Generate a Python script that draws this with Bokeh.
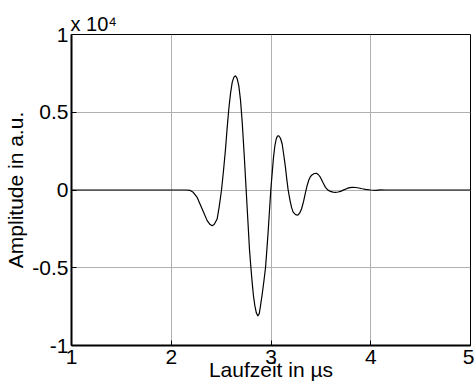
from bokeh.plotting import figure
from bokeh.models import Range1d, FixedTicker, CustomJSTickFormatter, Title
from bokeh.embed import file_html
from bokeh.resources import INLINE

# Laufzeit in microseconds
t_us = [1.00, 2.00, 2.15, 2.19, 2.22, 2.26, 2.31, 2.36, 2.39, 2.41, 2.43, 2.46, 2.48,
        2.504, 2.524, 2.544, 2.56, 2.577, 2.594, 2.611, 2.628, 2.644, 2.66, 2.677,
        2.694, 2.711, 2.731, 2.751, 2.768, 2.784, 2.798, 2.811, 2.825, 2.838, 2.853,
        2.868, 2.882, 2.895, 2.912, 2.928, 2.945, 2.958, 2.972, 2.985, 2.998, 3.012,
        3.025, 3.038, 3.052, 3.065, 3.078, 3.095, 3.112, 3.128, 3.145, 3.158, 3.172,
        3.19, 3.206, 3.222, 3.239, 3.254, 3.269, 3.288, 3.306, 3.326, 3.346, 3.362,
        3.379, 3.396, 3.413, 3.435, 3.456, 3.476, 3.496, 3.521, 3.546, 3.571, 3.596,
        3.622, 3.647, 3.672, 3.697, 3.73, 3.764, 3.79, 3.814, 3.85, 3.88, 3.915,
        3.947, 4.00, 4.05, 4.10, 4.15, 5.00]
# Amplitude in a.u.
amplitude = [0, 0, 0, -30, -150, -480, -1220, -1970, -2220, -2300, -2220, -1870, -1100,
             0, 1250, 2640, 3950, 5210, 6200, 6920, 7260, 7350, 7180, 6710,
             5800, 4400, 2300, 0, -1950, -3800, -4950, -5940, -6850, -7440, -7900,
             -8100, -7950, -7440, -6690, -5900, -5000, -3900, -2620, -1300, 0, 1100,
             2100, 2800, 3280, 3470, 3490, 3330, 2960, 2250, 1450, 700, 0,
             -650, -1120, -1420, -1540, -1600, -1610, -1480, -1220, -750, -150, 280,
             640, 870, 980, 1060, 1070, 980, 810, 480, 170, -10, -90,
             -140, -150, -130, -90, 10, 100, 150, 170, 160, 130, 80,
             40, 0, -20, 10, 0, 0]

x_ticks = [1, 2, 3, 4, 5]
y_ticks = [-10000, -5000, 0, 5000, 10000]
x_label = "Laufzeit in µs"
y_label = "Amplitude in a.u."
scale_text = "x 10\u2074"

FONT = "Liberation Sans"

p = figure(width=474, height=387, output_backend="svg", toolbar_location=None,
           x_range=Range1d(1, 5), y_range=Range1d(-10000, 10000),
           min_border_left=71, min_border_right=4, min_border_top=34, min_border_bottom=42,
           background_fill_color="white", border_fill_color="white")

p.outline_line_color = "black"
p.outline_line_width = 1

p.line(t_us, amplitude, line_color="black", line_width=1.2)

p.xaxis.ticker = FixedTicker(ticks=x_ticks)
p.yaxis.ticker = FixedTicker(ticks=y_ticks)
p.yaxis.formatter = CustomJSTickFormatter(code="return String(tick/1e4);")
for ax in (p.xaxis[0], p.yaxis[0]):
    ax.major_tick_in = 5
    ax.major_tick_out = 0
    ax.minor_tick_line_color = None
    ax.axis_line_color = "black"
    ax.axis_line_width = 2
    ax.major_tick_line_color = "black"
    ax.major_label_text_font = FONT
    ax.major_label_text_font_size = "21px"
    ax.major_label_text_color = "black"
    ax.axis_label_text_font = FONT
    ax.axis_label_text_font_size = "21px"
    ax.axis_label_text_font_style = "normal"
    ax.axis_label_text_color = "black"
p.xaxis.major_label_standoff = 4
p.yaxis.major_label_standoff = 3
p.xaxis.axis_label = x_label
p.yaxis.axis_label = y_label
p.xaxis.axis_label_standoff = -9
p.yaxis.axis_label_standoff = 2

p.xgrid.ticker = FixedTicker(ticks=x_ticks)
p.ygrid.ticker = FixedTicker(ticks=y_ticks)
p.grid.grid_line_color = "#b0b0b0"
p.grid.grid_line_width = 1

p.add_layout(Title(text=scale_text, align="left", offset=-1, standoff=0,
                   text_font=FONT, text_font_size="20px", text_font_style="normal",
                   text_color="black"), "above")

open("out.html", "w").write(file_html(p, INLINE))
